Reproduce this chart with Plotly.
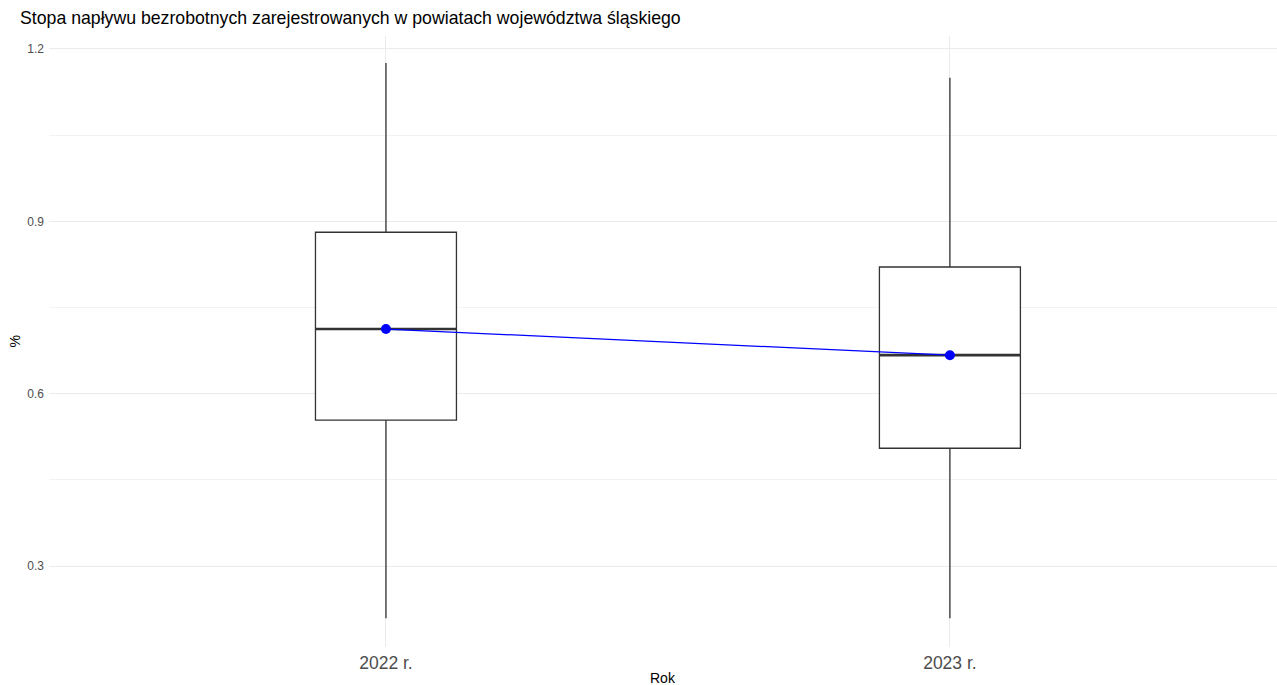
import plotly.graph_objects as go

# values
years = ["2022 r.", "2023 r."]
lower_whisker = [0.209, 0.209]
q1 = [0.554, 0.505]
median = [0.7125, 0.667]
q3 = [0.881, 0.8205]
upper_whisker = [1.1755, 1.150]
mean = [0.7125, 0.667]

box_width = 0.25
x_pos = list(range(len(years)))

fig = go.Figure()

# boxes (whiskers without caps, as in ggplot)
fig.add_trace(go.Box(
    x=x_pos, q1=q1, median=median, q3=q3,
    lowerfence=lower_whisker, upperfence=upper_whisker,
    width=box_width, whiskerwidth=0,
    fillcolor="white", line=dict(color="#333333", width=1.3),
    boxpoints=False, showlegend=False, hoverinfo="skip",
))

# thicker median line on top of each box
for xi, m in zip(x_pos, median):
    fig.add_trace(go.Scatter(
        x=[xi - box_width / 2, xi + box_width / 2], y=[m, m],
        mode="lines", line=dict(color="#333333", width=2.6),
        showlegend=False, hoverinfo="skip",
    ))

# means joined by a line
fig.add_trace(go.Scatter(
    x=x_pos, y=mean, mode="lines+markers",
    line=dict(color="blue", width=1.3),
    marker=dict(color="blue", size=10),
    showlegend=False,
))

fig.update_xaxes(
    range=[-0.5975, 1.58],
    tickvals=x_pos, ticktext=years,
    tickfont=dict(size=17.5, color="#4d4d4d"),
    showgrid=True, gridcolor="#ebebeb", gridwidth=1,
    zeroline=False, showline=False, ticks="", ticklabelstandoff=3,
)
fig.update_yaxes(
    range=[0.159, 1.2226],
    tickvals=[0.3, 0.6, 0.9, 1.2], ticktext=["0.3", "0.6", "0.9", "1.2"],
    tickfont=dict(size=12, color="#4d4d4d"),
    showgrid=True, gridcolor="#ebebeb", gridwidth=1,
    minor=dict(tickvals=[0.45, 0.75, 1.05], showgrid=True, gridcolor="#f2f2f2", gridwidth=1, ticks=""),
    zeroline=False, showline=False, ticks="", ticklabelstandoff=4,
)

fig.update_layout(
    width=1277, height=685,
    margin=dict(l=49, r=0, t=36, b=38),
    plot_bgcolor="white", paper_bgcolor="white",
    font=dict(family="Liberation Sans, Arial, sans-serif", color="black"),
    title=dict(
        text="Stopa napływu bezrobotnych zarejestrowanych w powiatach województwa śląskiego",
        x=20 / 1277, xanchor="left", y=1 - 18 / 685, yanchor="middle",
        font=dict(size=17.7, color="black"),
    ),
    annotations=[
        dict(text="Rok", xref="paper", yref="paper", x=0.5, y=0, yshift=-31,
             xanchor="center", yanchor="middle", showarrow=False,
             font=dict(size=14, color="black")),
        dict(text="%", xref="paper", yref="paper", x=0, xshift=-35, y=0.5,
             xanchor="center", yanchor="middle", textangle=-90, showarrow=False,
             font=dict(size=14, color="black")),
    ],
)

# drop the page's default body margin so the figure sits at the window's corner
fig.write_html("out.html", config={"displayModeBar": False},
               post_script="document.body.style.margin='0';")
